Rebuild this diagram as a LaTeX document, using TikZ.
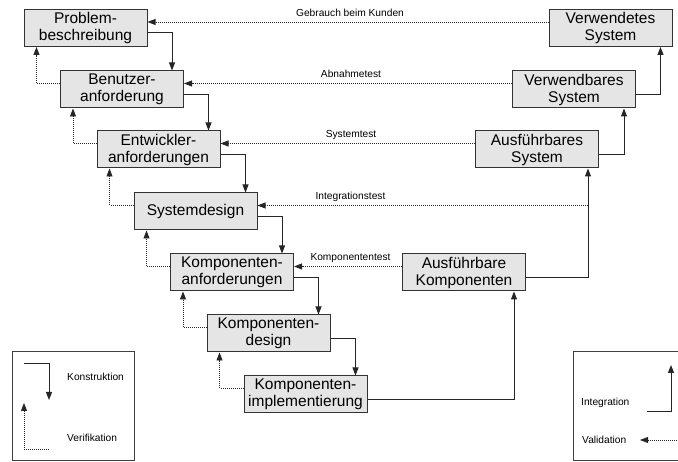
\documentclass[tikz,border=0pt]{standalone}
\usepackage{fontspec}
\setmainfont{Liberation Sans}
\usetikzlibrary{arrows.meta}
\begin{document}
\begin{tikzpicture}[x=1pt,y=-1pt,
  phase/.style={draw=black!80, line width=1pt, fill=black!10,
    minimum width=123pt, minimum height=37pt, inner sep=0pt,
    align=center, font=\fontsize{15.5}{17}\selectfont},
  tip/.style={-{Triangle[length=8pt,width=6pt]}},
  kon/.style={draw=black!85, line width=1pt, tip},
  ver/.style={draw=black!85, line width=0.9pt, dash pattern=on 1pt off 1pt, tip},
  lbl/.style={font=\fontsize{10.2}{12}\selectfont, inner sep=0pt},
  frame/.style={draw=black!75, line width=1pt}]
\useasboundingbox (0,0) rectangle (678,462);

% construction branch (left)
\node[phase] (P)  at (85.5,28)   {Problem-\\beschreibung};
\node[phase] (B)  at (122,89.5)  {Benutzer-\\anforderung};
\node[phase] (E)  at (158.5,149.5) {Entwickler-\\anforderungen};
\node[phase] (S)  at (195.5,211.5) {Systemdesign};
\node[phase] (KA) at (232,272.5) {Komponenten-\\anforderungen};
\node[phase] (KD) at (268.5,333.5) {Komponenten-\\design};
\node[phase] (KI) at (305.5,394.5) {Komponenten-\\implementierung};

% integration branch (right)
\node[phase] (VS) at (610.5,28)  {Verwendetes\\System};
\node[phase] (VB) at (574,89.5)  {Verwendbares\\System};
\node[phase] (AS) at (537,149.5) {Ausführbares\\System};
\node[phase] (AK) at (464,272.5) {Ausführbare\\Komponenten};

% construction steps
\draw[kon] ([yshift=-5pt]P.east)  -| ([xshift=-12pt]B.north east);
\draw[kon] ([yshift=-5pt]B.east)  -| ([xshift=-12pt]E.north east);
\draw[kon] ([yshift=-5pt]E.east)  -| ([xshift=-12pt]S.north east);
\draw[kon] ([yshift=-5pt]S.east)  -| ([xshift=-12pt]KA.north east);
\draw[kon] ([yshift=-5pt]KA.east) -| ([xshift=-12pt]KD.north east);
\draw[kon] ([yshift=-5pt]KD.east) -| ([xshift=-12pt]KI.north east);

% integration steps
\draw[kon] ([yshift=-5pt]KI.east) -| ([xshift=-12pt]AK.south east);
\draw[kon] ([yshift=-5pt]AK.east) -| ([xshift=-11pt]AS.south east);
\draw[kon] ([yshift=-5pt]AS.east) -| ([xshift=-12pt]VB.south east);
\draw[kon] ([yshift=-5pt]VB.east) -| ([xshift=-12pt]VS.south east);

% verification
\draw[ver] ([yshift=6pt]B.west)  -| ([xshift=13pt]P.south west);
\draw[ver] ([yshift=6pt]E.west)  -| ([xshift=13pt]B.south west);
\draw[ver] ([yshift=6pt]S.west)  -| ([xshift=13pt]E.south west);
\draw[ver] ([yshift=6pt]KA.west) -| ([xshift=13pt]S.south west);
\draw[ver] ([yshift=6pt]KD.west) -| ([xshift=13pt]KA.south west);
\draw[ver] ([yshift=6pt]KI.west) -| ([xshift=13pt]KD.south west);

% validation
\coordinate (gv) at ([yshift=6pt]P.east);
\coordinate (av) at ([yshift=6pt]B.east);
\coordinate (sv) at ([yshift=6pt]E.east);
\coordinate (iv) at ([yshift=6pt]S.east);
\coordinate (kv) at ([yshift=6pt]KA.east);
\coordinate (iup) at ([xshift=-11pt]AS.south east);
\draw[ver] (VS.west |- gv) -- (gv);
\draw[ver] (VB.west |- av) -- (av);
\draw[ver] (AS.west |- sv) -- (sv);
\draw[ver] (iup |- iv) -- (iv);
\draw[ver] (AK.west |- kv) -- (kv);

\node[lbl, anchor=base] (lg) at (350,16.5)  {Gebrauch beim Kunden};
\node[lbl, anchor=base] (la) at (351,78)    {Abnahmetest};
\node[lbl, anchor=base] (ls) at (351,138)   {Systemtest};
\node[lbl, anchor=base] (li) at (350.5,199.5) {Integrationstest};
\node[lbl, anchor=base] (lk) at (350.5,261) {Komponententest};

% legend: construction / verification
\draw[frame] (12,352) rectangle (134,461);
\coordinate (k1) at (24,364);
\coordinate (k2) at (49,400);
\draw[kon] (k1) -| (k2);
\coordinate (v1) at (49,449);
\coordinate (v2) at (24,403);
\draw[ver] (v1) -| (v2);
\node[lbl, anchor=base west] (tk) at (67,380.5) {Konstruktion};
\node[lbl, anchor=base west] (tv) at (67,441.5) {Verifikation};

% legend: integration / validation
\draw[frame] (679,352) -- (573,352) -- (573,461) -- (679,461);
\coordinate (i1) at (647,412);
\coordinate (i2) at (671,365);
\draw[kon] (i1) -| (i2);
\coordinate (w1) at (679,440);
\coordinate (w2) at (640,440);
\draw[ver] (w1) -- (w2);
\node[lbl, anchor=base west] (ti) at (581,405.5) {Integration};
\node[lbl, anchor=base west] (tw) at (582,443.5) {Validation};
\end{tikzpicture}
\end{document}
